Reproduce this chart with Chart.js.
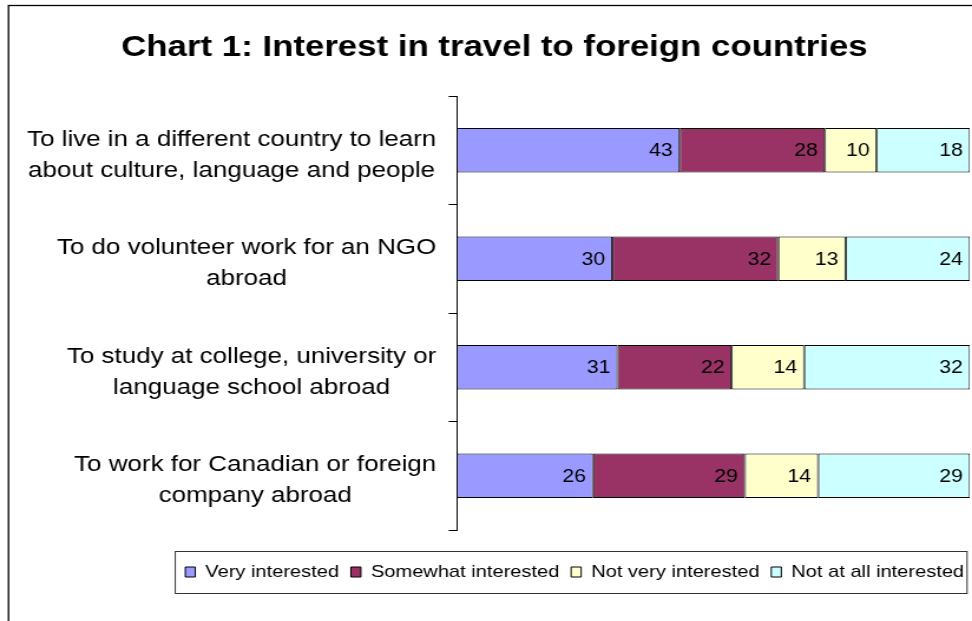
<!DOCTYPE html>
<html>
<head>
<meta charset="utf-8">
<title>Chart 1: Interest in travel to foreign countries</title>
<script src="https://cdn.jsdelivr.net/npm/chart.js@4.4.1/dist/chart.umd.min.js"></script>
<style>
  html, body { margin: 0; padding: 0; background: #fff; }
  /* drawing buffer is narrower than the box, so the whole chart is widened a little */
  #travelChart { display: block; width: 972px; height: 621px; }
</style>
</head>
<body>
<canvas id="travelChart" width="824" height="621" style="width:972px;height:621px"></canvas>
<script>
// categories (two-line labels) and the four answer groups
const categories = [
  ['To live in a different country to learn', 'about culture, language and people'],
  ['To do volunteer work for an NGO', 'abroad'],
  ['To study at college, university or', 'language school abroad'],
  ['To work for Canadian or foreign', 'company abroad']
];
const seriesNames = ['Very interested', 'Somewhat interested', 'Not very interested', 'Not at all interested'];
const veryInterested = [43, 30, 31, 26];
const somewhatInterested = [28, 32, 22, 29];
const notVeryInterested = [10, 13, 14, 14];
const notAtAllInterested = [18, 24, 32, 29];
const seriesColors = ['#9999FF', '#993366', '#FFFFCC', '#CCFFFF'];

const FONT = '"Liberation Sans", Arial, Helvetica, sans-serif';
const rawSeries = [veryInterested, somewhatInterested, notVeryInterested, notAtAllInterested];

// 100% stacked: each row is scaled to its own total
const rowTotals = categories.map((_, j) => rawSeries.reduce((s, arr) => s + arr[j], 0));
const shares = rawSeries.map(arr => arr.map((v, j) => v / rowTotals[j] * 100));

// white background + outer frame
const frame = {
  id: 'frame',
  beforeDraw(chart) {
    const ctx = chart.ctx;
    ctx.save();
    ctx.fillStyle = '#fff';
    ctx.fillRect(0, 0, chart.width, chart.height);
    ctx.strokeStyle = '#000';
    ctx.lineWidth = 1.3;
    ctx.strokeRect(7.2, 5.5, chart.width + 20, chart.height + 20);
    ctx.restore();
  }
};

// category names, each block right-aligned to the axis, lines centred inside it
const categoryLabels = {
  id: 'categoryLabels',
  afterDraw(chart) {
    const ctx = chart.ctx;
    const yScale = chart.scales.y;
    const right = yScale.right - 17.5;
    const lineGap = 31;
    ctx.save();
    ctx.font = '22px ' + FONT;
    ctx.fillStyle = '#000';
    ctx.textAlign = 'center';
    ctx.textBaseline = 'middle';
    chart.data.labels.forEach((lines, i) => {
      const widest = Math.max(...lines.map(l => ctx.measureText(l).width));
      const cx = right - widest / 2;
      const yc = yScale.getPixelForValue(i) + 5;
      const y0 = yc - (lines.length - 1) * lineGap / 2;
      lines.forEach((l, k) => ctx.fillText(l, cx, y0 + k * lineGap));
    });
    ctx.restore();
  }
};

// value written at the right end of each segment
const valueLabels = {
  id: 'valueLabels',
  afterDatasetsDraw(chart) {
    const ctx = chart.ctx;
    ctx.save();
    ctx.font = '18px ' + FONT;
    ctx.fillStyle = '#000';
    ctx.textAlign = 'right';
    ctx.textBaseline = 'middle';
    rawSeries.forEach((arr, i) => {
      chart.getDatasetMeta(i).data.forEach((bar, j) => {
        ctx.fillText(String(arr[j]), bar.x - 6, bar.y + 1);
      });
    });
    ctx.restore();
  }
};

// nudge the legend row a bit to the right, then frame it
const legendBox = {
  id: 'legendBox',
  afterLayout(chart) {
    chart.legend.left += 5;
    chart.legend.right += 5;
  },
  afterDraw(chart) {
    const boxes = chart.legend.legendHitBoxes;
    if (!boxes || !boxes.length) return;
    const left = Math.min(...boxes.map(b => b.left)) - 8.5;
    const right = Math.max(...boxes.map(b => b.left + b.width)) + 2.5;
    const top = Math.min(...boxes.map(b => b.top)) - 12.5;
    const bottom = Math.max(...boxes.map(b => b.top + b.height)) + 12.5;
    const ctx = chart.ctx;
    ctx.save();
    ctx.strokeStyle = '#333';
    ctx.lineWidth = 1;
    ctx.strokeRect(left, Math.round(top) + 0.5, right - left, Math.round(bottom - top));
    ctx.restore();
  }
};

const ctx = document.getElementById('travelChart').getContext('2d');
new Chart(ctx, {
  type: 'bar',
  data: {
    labels: categories,
    datasets: seriesNames.map((name, i) => ({
      label: name,
      data: shares[i],
      backgroundColor: seriesColors[i],
      borderColor: '#000',
      borderWidth: 1,
      borderSkipped: false,
      categoryPercentage: 1,
      barPercentage: 0.41
    }))
  },
  options: {
    indexAxis: 'y',
    responsive: false,
    animation: false,
    devicePixelRatio: 1,
    layout: { padding: { top: 30, left: 16, right: 1.7, bottom: 30.5 } },
    plugins: {
      title: {
        display: true,
        text: 'Chart 1: Interest in travel to foreign countries',
        color: '#000',
        font: { family: FONT, size: 29.5, weight: 'bold' },
        padding: { top: 0, bottom: 30.6 }
      },
      legend: {
        display: true,
        position: 'bottom',
        align: 'end',
        labels: {
          color: '#000',
          font: { family: FONT, size: 17 },
          boxWidth: 8.5,
          boxHeight: 10,
          padding: 10
        }
      },
      tooltip: { enabled: false }
    },
    scales: {
      x: {
        stacked: true,
        min: 0,
        max: 100,
        grid: { display: false },
        border: { display: false },
        ticks: { display: false },
        afterFit(scale) { scale.height = 23.5; }
      },
      y: {
        stacked: true,
        grid: {
          display: true,
          drawOnChartArea: false,
          drawTicks: true,
          tickLength: 7,
          color: '#000',
          offset: true
        },
        border: { display: true, color: '#000', width: 1 },
        ticks: { display: false },
        afterFit(scale) { scale.width = 371.3; }
      }
    }
  },
  plugins: [frame, categoryLabels, valueLabels, legendBox]
});
</script>
</body>
</html>
